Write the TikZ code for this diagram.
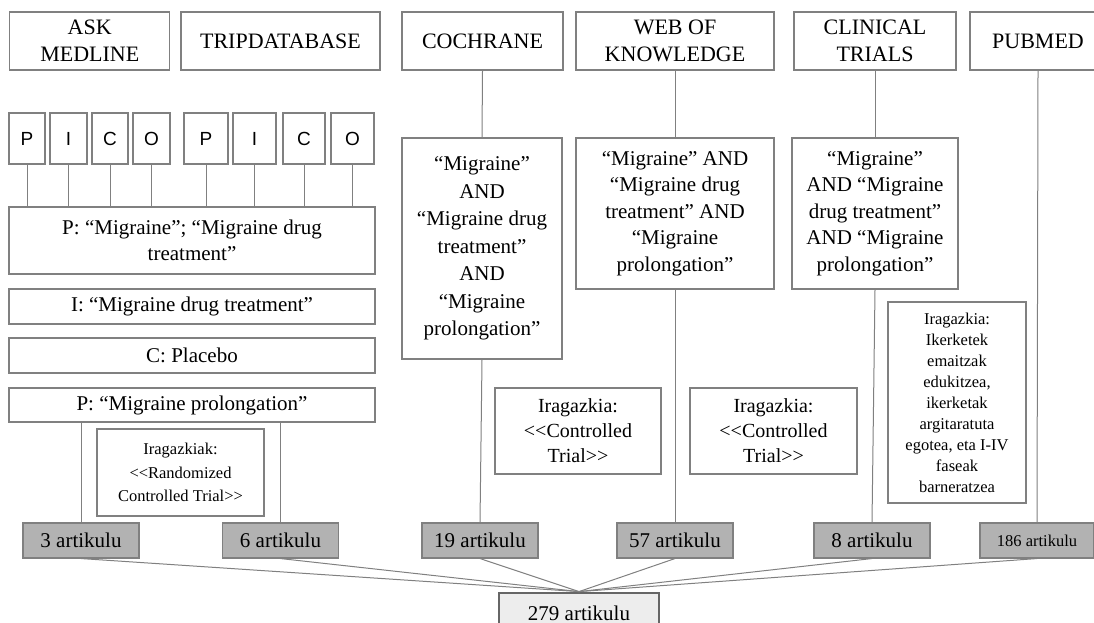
\documentclass[tikz,border=0pt]{standalone}
\usepackage{fontspec}
\setmainfont{Liberation Serif}
\newfontfamily\picofont{Liberation Sans}
\usepackage{tikz}

\newcommand{\dlt}{<\kern0pt<}
\newcommand{\dgt}{>\kern0pt>}

\begin{document}
\begin{tikzpicture}
	[x=1pt,y=-1pt,line cap=round,
	%Styles
	box/.style={draw=boxgray,line width=1.1pt,inner sep=1pt,align=center,fill=white,
		font=\fontsize{21}{26.5}\selectfont},
	db node/.style={box,minimum height=58pt,font=\fontsize{22}{27}\selectfont},
	pico node/.style={box,minimum height=51pt,font=\picofont\fontsize{19}{22}\selectfont},
	term node/.style={box,minimum width=366pt},
	query node/.style={box},
	filter node/.style={box,font=\fontsize{20}{25}\selectfont},
	small filter/.style={box,font=\fontsize{16.5}{21}\selectfont},
	count node/.style={box,fill=countfill,minimum width=116pt,minimum height=35pt},
	total node/.style={box,draw=totalline,line width=2.8pt,fill=totalfill,minimum width=160pt,minimum height=40pt},
	conn/.style={draw=linegray,line width=1pt}
	]

	%Colors
	\colorlet{boxgray}{black!50}
	\colorlet{linegray}{black!50}
	\colorlet{countfill}{black!30}
	\colorlet{totalfill}{black!7}
	\colorlet{totalline}{black!60}

	\useasboundingbox (0,0) rectangle (1094,623);

	%Databases
	\node[db node,minimum width=160pt] (ask) at (89.75,41) {ASK\\MEDLINE};
	\node[db node,minimum width=199pt] (trip) at (280.5,41) {TRIPDATABASE};
	\node[db node,minimum width=161pt] (coch) at (482.5,41) {COCHRANE};
	\node[db node,minimum width=198pt] (web) at (675,41) {WEB OF\\KNOWLEDGE};
	\node[db node,minimum width=162pt] (clin) at (875,41) {CLINICAL\\TRIALS};
	\node[db node,minimum width=136pt] (pub) at (1038,41) {PUBMED};

	%PICO
	\node[pico node,minimum width=36pt] (p1) at (27,138.5) {P};
	\node[pico node,minimum width=37pt] (i1) at (68.5,138.5) {I};
	\node[pico node,minimum width=36pt] (c1) at (110,138.5) {C};
	\node[pico node,minimum width=37pt] (o1) at (151.5,138.5) {O};
	\node[pico node,minimum width=44pt] (p2) at (206,138.5) {P};
	\node[pico node,minimum width=43pt] (i2) at (254.5,138.5) {I};
	\node[pico node,minimum width=42pt] (c2) at (304,138.5) {C};
	\node[pico node,minimum width=43pt] (o2) at (352.5,138.5) {O};

	\node[term node,minimum height=67pt] (pmig) at (192,240.5) {P: “Migraine”; “Migraine drug\\treatment”};
	\node[term node,minimum height=35pt] (imig) at (192,306.5) {I: “Migraine drug treatment”};
	\node[term node,minimum height=35pt] (cplac) at (192,355.5) {C: Placebo};
	\node[term node,minimum height=34pt] (pprol) at (192,405) {P: “Migraine prolongation”};
	\node[small filter,minimum width=167pt,minimum height=87pt,font=\fontsize{16.5}{23.5}\selectfont] (fask) at (180.5,472.5)
		{Iragazkiak:\\\dlt Randomized\\Controlled Trial\dgt};

	%Search strings
	\node[query node,minimum width=160pt,minimum height=221pt,font=\fontsize{21}{27.5}\selectfont] (qcoch) at (482,248.5)
		{“Migraine”\\AND\\“Migraine drug\\treatment”\\AND\\“Migraine\\prolongation”};
	\node[query node,minimum width=198pt,minimum height=151pt] (qweb) at (675,213.5)
		{“Migraine” AND\\“Migraine drug\\treatment” AND\\“Migraine\\prolongation”};
	\node[query node,minimum width=166pt,minimum height=151pt] (qclin) at (875,213.5)
		{“Migraine”\\AND “Migraine\\drug treatment”\\AND “Migraine\\prolongation”};

	%Filters
	\node[filter node,minimum width=166pt,minimum height=86pt] (fcoch) at (578,431)
		{Iragazkia:\\\dlt Controlled\\Trial\dgt};
	\node[filter node,minimum width=167pt,minimum height=86pt] (fweb) at (773.5,431)
		{Iragazkia:\\\dlt Controlled\\Trial\dgt};
	\node[small filter,minimum width=138pt,minimum height=201pt] (fclin) at (957,402.5)
		{Iragazkia:\\Ikerketek\\emaitzak\\edukitzea,\\ikerketak\\argitaratuta\\egotea, eta I-IV\\faseak\\barneratzea};

	%Results
	\node[count node] (a3) at (81,540.5) {3 artikulu};
	\node[count node] (a6) at (280.5,540.5) {6 artikulu};
	\node[count node] (a19) at (480,540.5) {19 artikulu};
	\node[count node] (a57) at (675,540.5) {57 artikulu};
	\node[count node] (a8) at (872,540.5) {8 artikulu};
	\node[count node,minimum width=114pt,font=\fontsize{16.5}{20}\selectfont] (a186) at (1037,540.5) {186 artikulu};
	\node[total node] (total) at (579,613) {279 artikulu};

	%Connectors
	\foreach \n in {p1,i1,c1,o1,p2,i2,c2,o2}
		\draw[conn] (\n.south) -- (\n |- pmig.north);
	\draw[conn] (a3.north) -- (a3 |- pprol.south);
	\draw[conn] (a6.north) -- (a6 |- pprol.south);
	\draw[conn] (coch.south) -- (qcoch.north);
	\draw[conn] (qcoch.south) -- (a19.north);
	\draw[conn] (web.south) -- (qweb.north);
	\draw[conn] (qweb.south) -- (a57.north);
	\draw[conn] (clin.south) -- (qclin.north);
	\draw[conn] (qclin.south) -- (a8.north);
	\draw[conn] (pub.south) -- (a186.north);
	\foreach \n in {a3,a6,a19,a57,a8,a186}
		\draw[conn] (\n.south) -- (total.north);
\end{tikzpicture}
\end{document}
